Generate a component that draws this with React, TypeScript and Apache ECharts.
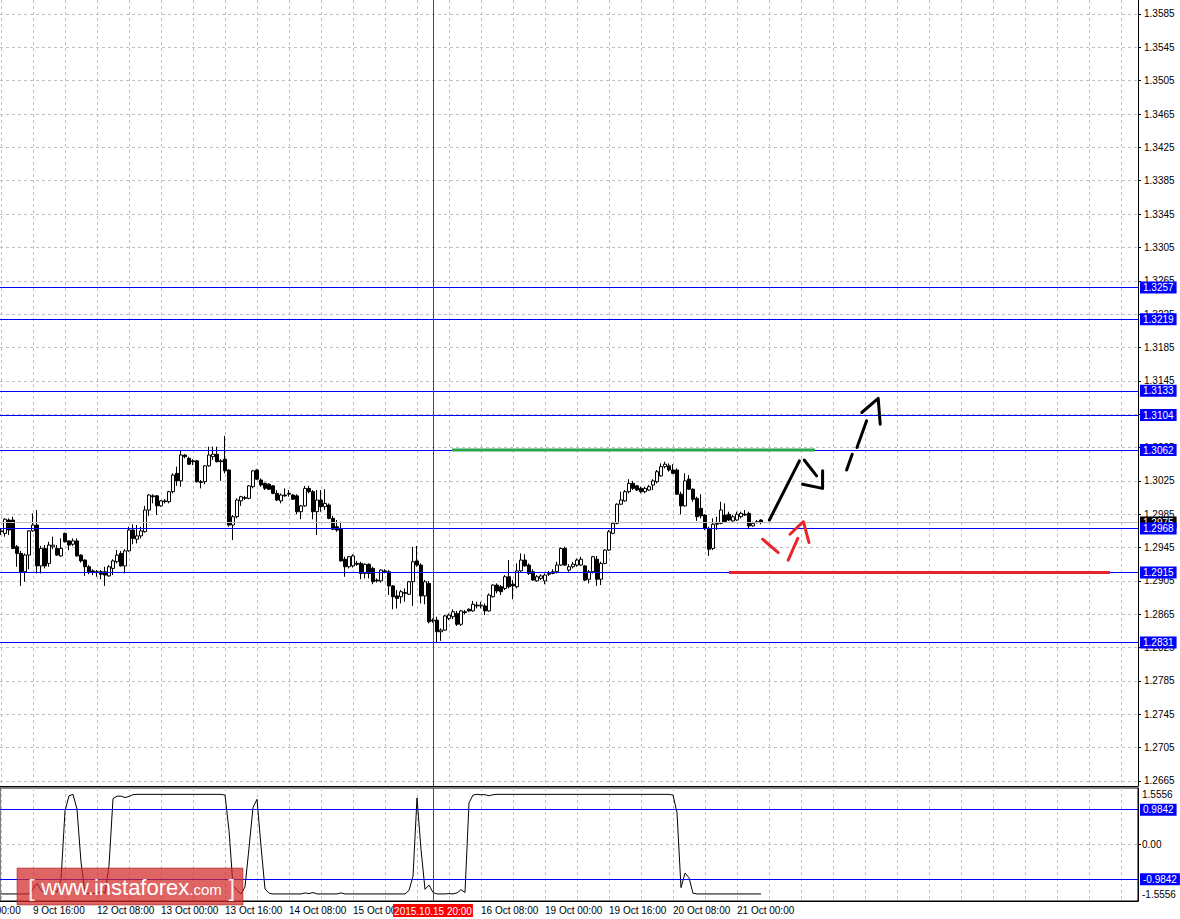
import React, { useEffect, useRef } from 'react';
import * as echarts from 'echarts';

// H1 bars, index 0 = 9 Oct 08:00 ; each row: [open, close, low, high]
const ohlc: number[][] = [
  [1.2964, 1.2965, 1.2960, 1.2968], [1.2962, 1.2979, 1.2958, 1.2980], [1.2978, 1.2966, 1.2960, 1.2980], [1.2978, 1.2944, 1.2943, 1.2982],
  [1.2946, 1.2938, 1.2922, 1.2948], [1.2938, 1.2916, 1.2899, 1.2941], [1.2916, 1.2936, 1.2904, 1.2938], [1.2936, 1.2965, 1.2919, 1.2966],
  [1.2965, 1.2972, 1.2964, 1.2986], [1.2972, 1.2923, 1.2914, 1.2990], [1.2923, 1.2944, 1.2914, 1.2947], [1.2944, 1.2923, 1.2920, 1.2948],
  [1.2926, 1.2948, 1.2922, 1.2952], [1.2946, 1.2948, 1.2943, 1.2958], [1.2944, 1.2936, 1.2935, 1.2948], [1.2935, 1.2944, 1.2934, 1.2956],
  [1.2962, 1.2952, 1.2951, 1.2963], [1.2953, 1.2948, 1.2942, 1.2954], [1.2949, 1.2953, 1.2947, 1.2956], [1.2953, 1.2935, 1.2934, 1.2956],
  [1.2936, 1.2929, 1.2927, 1.2937], [1.2930, 1.2922, 1.2911, 1.2931], [1.2922, 1.2916, 1.2913, 1.2924], [1.2917, 1.2916, 1.2912, 1.2919],
  [1.2916, 1.2915, 1.2910, 1.2918], [1.2916, 1.2913, 1.2907, 1.2918], [1.2916, 1.2912, 1.2899, 1.2922], [1.2911, 1.2922, 1.2910, 1.2924],
  [1.2920, 1.2929, 1.2912, 1.2931], [1.2928, 1.2936, 1.2926, 1.2942], [1.2938, 1.2923, 1.2922, 1.2941], [1.2923, 1.2941, 1.2914, 1.2943],
  [1.2941, 1.2966, 1.2940, 1.2970], [1.2966, 1.2956, 1.2949, 1.2973], [1.2955, 1.2959, 1.2950, 1.2972], [1.2959, 1.2965, 1.2956, 1.2970],
  [1.2964, 1.2990, 1.2963, 1.2995], [1.2990, 1.3008, 1.2983, 1.3009], [1.3007, 1.3006, 1.2998, 1.3009], [1.3007, 1.2995, 1.2984, 1.3008],
  [1.2995, 1.3001, 1.2994, 1.3002], [1.3001, 1.3000, 1.2998, 1.3003], [1.3000, 1.3012, 1.2998, 1.3013], [1.3012, 1.3032, 1.3010, 1.3034],
  [1.3034, 1.3025, 1.3019, 1.3042], [1.3025, 1.3056, 1.3018, 1.3062], [1.3056, 1.3054, 1.3052, 1.3057], [1.3052, 1.3045, 1.3044, 1.3054],
  [1.3049, 1.3048, 1.3044, 1.3051], [1.3049, 1.3024, 1.3023, 1.3050], [1.3024, 1.3023, 1.3016, 1.3026], [1.3024, 1.3043, 1.3021, 1.3044],
  [1.3043, 1.3056, 1.3042, 1.3066], [1.3054, 1.3057, 1.3050, 1.3066], [1.3057, 1.3048, 1.3047, 1.3066], [1.3049, 1.3048, 1.3025, 1.3051],
  [1.3051, 1.3037, 1.3034, 1.3079], [1.3038, 1.2972, 1.2970, 1.3039], [1.2972, 1.2982, 1.2954, 1.2984], [1.2982, 1.3002, 1.2980, 1.3004],
  [1.3001, 1.3006, 1.2995, 1.3007], [1.3004, 1.3005, 1.3002, 1.3007], [1.3004, 1.3019, 1.3003, 1.3020], [1.3018, 1.3037, 1.3016, 1.3038],
  [1.3038, 1.3027, 1.3026, 1.3039], [1.3026, 1.3020, 1.3018, 1.3028], [1.3022, 1.3016, 1.3014, 1.3023], [1.3021, 1.3015, 1.3014, 1.3022],
  [1.3019, 1.3010, 1.3009, 1.3020], [1.3010, 1.3002, 1.3001, 1.3014], [1.3001, 1.3008, 1.2998, 1.3010], [1.3008, 1.3007, 1.3006, 1.3016],
  [1.3009, 1.3010, 1.3006, 1.3014], [1.3008, 1.3003, 1.3002, 1.3009], [1.3007, 1.2988, 1.2985, 1.3009], [1.2988, 1.2995, 1.2979, 1.2996],
  [1.2995, 1.3016, 1.2994, 1.3019], [1.3016, 1.3012, 1.3010, 1.3019], [1.3012, 1.2988, 1.2979, 1.3014], [1.2988, 1.3002, 1.2960, 1.3014],
  [1.3002, 1.2994, 1.2988, 1.3014], [1.2994, 1.2998, 1.2990, 1.3015], [1.2996, 1.2980, 1.2979, 1.2998], [1.2980, 1.2967, 1.2966, 1.2983],
  [1.2970, 1.2966, 1.2964, 1.2978], [1.2967, 1.2929, 1.2928, 1.2976], [1.2931, 1.2922, 1.2910, 1.2934], [1.2922, 1.2934, 1.2920, 1.2935],
  [1.2923, 1.2935, 1.2921, 1.2937], [1.2926, 1.2925, 1.2923, 1.2929], [1.2926, 1.2914, 1.2907, 1.2928], [1.2914, 1.2925, 1.2908, 1.2926],
  [1.2925, 1.2914, 1.2908, 1.2926], [1.2920, 1.2904, 1.2901, 1.2922], [1.2906, 1.2905, 1.2903, 1.2908], [1.2905, 1.2918, 1.2903, 1.2919],
  [1.2917, 1.2916, 1.2914, 1.2919], [1.2916, 1.2899, 1.2888, 1.2918], [1.2899, 1.2886, 1.2871, 1.2900], [1.2887, 1.2884, 1.2872, 1.2894],
  [1.2886, 1.2892, 1.2878, 1.2894], [1.2890, 1.2891, 1.2880, 1.2896], [1.2889, 1.2904, 1.2888, 1.2905], [1.2904, 1.2928, 1.2875, 1.2946],
  [1.2929, 1.2924, 1.2922, 1.2947], [1.2924, 1.2887, 1.2878, 1.2926], [1.2887, 1.2904, 1.2877, 1.2906], [1.2902, 1.2856, 1.2854, 1.2905],
  [1.2858, 1.2857, 1.2855, 1.2860], [1.2858, 1.2844, 1.2831, 1.2862], [1.2844, 1.2846, 1.2833, 1.2848], [1.2846, 1.2863, 1.2845, 1.2864],
  [1.2860, 1.2864, 1.2858, 1.2866], [1.2862, 1.2868, 1.2859, 1.2871], [1.2866, 1.2853, 1.2851, 1.2869], [1.2853, 1.2869, 1.2851, 1.2870],
  [1.2868, 1.2867, 1.2865, 1.2870], [1.2871, 1.2869, 1.2868, 1.2872], [1.2869, 1.2877, 1.2868, 1.2881], [1.2876, 1.2875, 1.2872, 1.2880],
  [1.2875, 1.2876, 1.2872, 1.2880], [1.2875, 1.2869, 1.2864, 1.2878], [1.2869, 1.2888, 1.2868, 1.2890], [1.2886, 1.2900, 1.2885, 1.2901],
  [1.2900, 1.2893, 1.2890, 1.2902], [1.2898, 1.2892, 1.2888, 1.2900], [1.2896, 1.2910, 1.2894, 1.2912], [1.2910, 1.2898, 1.2896, 1.2930],
  [1.2901, 1.2899, 1.2883, 1.2906], [1.2898, 1.2917, 1.2896, 1.2926], [1.2917, 1.2930, 1.2916, 1.2938], [1.2930, 1.2923, 1.2922, 1.2937],
  [1.2924, 1.2914, 1.2912, 1.2926], [1.2916, 1.2906, 1.2905, 1.2919], [1.2905, 1.2910, 1.2904, 1.2912], [1.2908, 1.2911, 1.2906, 1.2913],
  [1.2905, 1.2912, 1.2901, 1.2914], [1.2913, 1.2914, 1.2911, 1.2917], [1.2914, 1.2916, 1.2913, 1.2919], [1.2916, 1.2924, 1.2914, 1.2928],
  [1.2924, 1.2944, 1.2923, 1.2945], [1.2944, 1.2924, 1.2923, 1.2946], [1.2918, 1.2922, 1.2916, 1.2925], [1.2922, 1.2925, 1.2920, 1.2928],
  [1.2924, 1.2930, 1.2922, 1.2932], [1.2924, 1.2931, 1.2923, 1.2934], [1.2923, 1.2906, 1.2905, 1.2924], [1.2907, 1.2916, 1.2902, 1.2918],
  [1.2916, 1.2934, 1.2914, 1.2935], [1.2931, 1.2907, 1.2899, 1.2935], [1.2907, 1.2926, 1.2900, 1.2928], [1.2926, 1.2942, 1.2925, 1.2943],
  [1.2942, 1.2964, 1.2941, 1.2966], [1.2962, 1.2974, 1.2961, 1.2976], [1.2974, 1.2997, 1.2973, 1.2998], [1.2997, 1.3002, 1.2996, 1.3012],
  [1.3001, 1.3012, 1.3000, 1.3014], [1.3012, 1.3022, 1.3010, 1.3027], [1.3022, 1.3016, 1.3014, 1.3025], [1.3019, 1.3014, 1.3013, 1.3020],
  [1.3016, 1.3012, 1.3010, 1.3018], [1.3012, 1.3016, 1.3010, 1.3018], [1.3014, 1.3018, 1.3013, 1.3020], [1.3020, 1.3025, 1.3014, 1.3027],
  [1.3024, 1.3036, 1.3022, 1.3038], [1.3031, 1.3042, 1.3030, 1.3046], [1.3042, 1.3045, 1.3040, 1.3048], [1.3043, 1.3038, 1.3036, 1.3046],
  [1.3038, 1.3034, 1.3033, 1.3045], [1.3038, 1.3009, 1.3008, 1.3040], [1.3009, 1.2995, 1.2985, 1.3012], [1.2995, 1.3025, 1.2994, 1.3034],
  [1.3027, 1.3015, 1.3014, 1.3032], [1.3015, 1.3003, 1.3000, 1.3016], [1.3004, 1.2982, 1.2977, 1.3006], [1.2992, 1.2983, 1.2980, 1.3009],
  [1.2984, 1.2968, 1.2966, 1.2985], [1.2968, 1.2943, 1.2935, 1.2970], [1.2944, 1.2973, 1.2942, 1.2980], [1.2973, 1.2974, 1.2966, 1.2982],
  [1.2974, 1.2990, 1.2973, 1.3000], [1.2984, 1.2976, 1.2975, 1.2998], [1.2985, 1.2978, 1.2977, 1.2988], [1.2977, 1.2982, 1.2976, 1.2984],
  [1.2978, 1.2985, 1.2977, 1.2988], [1.2982, 1.2986, 1.2980, 1.2988], [1.2985, 1.2984, 1.2983, 1.2990], [1.2986, 1.2971, 1.2967, 1.2988],
  [1.2971, 1.2974, 1.2970, 1.2976], [1.2976, 1.2975, 1.2974, 1.2978], [1.2978, 1.2975, 1.2973, 1.2979],
];

// oscillator (lower window), one value per bar
const oscillator: number[] = [
  -1.40, -1.40, -1.40, -1.40, -1.40, -1.40, -1.40,
  -1.40, -1.25, -1.10, -1.30, -1.38, -1.15, -1.30, -1.35, -1.00,
  0.95, 1.38, 1.42, 1.00, -0.50, -1.36,
  -1.40, -1.38, -1.40, -1.30, -1.38,
  -0.60, 1.30, 1.37, 1.37, 1.33, 1.36, 1.41,
  1.42, 1.42, 1.42, 1.42, 1.42, 1.42, 1.42, 1.42, 1.42, 1.42, 1.42, 1.42, 1.42, 1.42, 1.42, 1.42, 1.42, 1.42, 1.42, 1.42, 1.42, 1.42,
  1.40, 0.40, -1.17, -1.30, -1.40, -1.20, -0.10, 1.05, 1.28, -0.05, -1.26, -1.38,
  -1.40, -1.40, -1.40, -1.40, -1.40, -1.40, -1.40, -1.40,
  -1.37, -1.39, -1.36,
  -1.40, -1.40, -1.40, -1.40, -1.40, -1.40,
  -1.37,
  -1.40, -1.40, -1.40, -1.40, -1.40, -1.40, -1.40, -1.40, -1.40, -1.40, -1.40, -1.40, -1.40, -1.40, -1.40, -1.40,
  -1.30, -0.90, 1.32, -0.14, -1.27, -1.15, -1.36,
  -1.40, -1.40, -1.40, -1.39, -1.40, -1.37, -1.28, -1.36,
  1.18, 1.40, 1.42, 1.41, 1.41, 1.38, 1.41,
  1.42, 1.42, 1.42, 1.42, 1.42, 1.42, 1.42, 1.42, 1.42, 1.42, 1.42, 1.42, 1.42, 1.42, 1.42,
  1.42, 1.42, 1.42, 1.42, 1.42, 1.42, 1.42, 1.42, 1.42, 1.42, 1.42, 1.42, 1.42, 1.42, 1.42,
  1.42, 1.42, 1.42, 1.42, 1.42, 1.42, 1.42, 1.42, 1.42, 1.42, 1.42, 1.42, 1.42, 1.42, 1.40,
  0.90, -1.22, -0.81, -0.94, -1.38,
  -1.40, -1.40, -1.40, -1.40, -1.40, -1.40, -1.40, -1.40, -1.40, -1.40, -1.40, -1.40, -1.40, -1.40, -1.40, -1.40, -1.40,
];

const priceTicks = [
  1.2665, 1.2705, 1.2745, 1.2785, 1.2825, 1.2865, 1.2905, 1.2945, 1.2985, 1.3025, 1.3065, 1.3105,
  1.3145, 1.3185, 1.3225, 1.3265, 1.3305, 1.3345, 1.3385, 1.3425, 1.3465, 1.3505, 1.3545, 1.3585,
];
const timeLabelBars = [8, 24, 40, 56, 72, 88, 120, 136, 152, 168, 184];
const timeLabels = [
  '9 Oct 16:00', '12 Oct 08:00', '13 Oct 00:00', '13 Oct 16:00', '14 Oct 08:00', '15 Oct 00:00',
  '16 Oct 08:00', '19 Oct 00:00', '19 Oct 16:00', '20 Oct 08:00', '21 Oct 00:00',
];
const firstPartialLabel = '9 Oct 00:00';
const levelPrices = [1.3257, 1.3219, 1.3133, 1.3104, 1.3062, 1.2968, 1.2915, 1.2831];
const bidPrice = 1.2975;
const oscLevels = [0.9842, -0.9842];
const oscLabelValues = [1.5556, 0, -1.5556];
const cursorBar = 108;
const cursorLabel = '2015.10.15 20:00';

// hand-drawn annotations in (bar index, price)
const greenSegment = [[112.75, 1.3062], [203.5, 1.3062]];
const redSegment = [[182, 1.2915], [277.25, 1.2915]];
const blackStrokes = [
  [[192.1, 1.2978], [199.6, 1.3049]],
  [[200.8, 1.3050], [203.9, 1.3031]],
  [[200.4, 1.3021], [205.4, 1.3016], [205.4, 1.3037]],
  [[211.4, 1.3038], [212.8, 1.3057]],
  [[214.0, 1.3065], [216.4, 1.3097]],
  [[215.2, 1.3107], [219.3, 1.3124], [219.8, 1.3093]],
];
const redStrokes = [
  [[190.4, 1.2955], [194.3, 1.2939]],
  [[196.8, 1.2930], [199.2, 1.2956]],
  [[197.25, 1.2961], [200.6, 1.2976], [202.0, 1.2951]],
];

const FONT = 'Liberation Sans, Arial, sans-serif';
const GRID_COLOR = '#c0c0c0';
const BLUE_LINE = '#0000ff';
const BLUE_LABEL = '#0000ff';
const gridBars: number[] = [];
for (let b = 0; b <= 280; b += 8) gridBars.push(b);

function buildOption(): any {
  const blueLabel = (text: string) => ({
    show: true, position: 'end', formatter: text, color: '#fff',
    backgroundColor: BLUE_LABEL, padding: [1, 3, 1, 3], distance: 2,
    fontSize: 10, fontFamily: FONT, lineHeight: 10,
  });
  const levelMarks = levelPrices.map((p) => ({
    yAxis: p,
    lineStyle: { color: BLUE_LINE, width: 1, type: 'solid' },
    label: blueLabel(p.toFixed(4)),
  }));
  const oscMarks = oscLevels.map((v) => ({
    yAxis: v,
    lineStyle: { color: BLUE_LINE, width: 1, type: 'solid' },
    label: blueLabel(v.toFixed(4)),
  }));

  const strokeSeries = (strokes: number[][][], color: string, width: number) =>
    strokes.map((s) => ({
      type: 'line', xAxisIndex: 0, yAxisIndex: 0, data: s, symbol: 'none', silent: true,
      lineStyle: { color, width, cap: 'round', join: 'round' }, z: 6,
    }));

  return {
    animation: false,
    backgroundColor: '#ffffff',
    textStyle: { fontFamily: FONT, fontSize: 10, color: '#000' },
    grid: [
      { left: 0, top: 0, width: 1138, height: 786, containLabel: false, outerBoundsMode: 'none' },
      { left: 0, top: 788, width: 1138, height: 113, containLabel: false, outerBoundsMode: 'none',
        show: true, borderColor: '#000', borderWidth: 1, backgroundColor: 'transparent' },
    ],
    xAxis: [
      {
        type: 'value', gridIndex: 0, min: -0.25, max: 284.25,
        axisLine: { show: true, onZero: false, lineStyle: { color: '#000', width: 1 } },
        axisTick: { show: false, customValues: gridBars },
        axisLabel: { show: false },
        splitLine: { show: true, lineStyle: { color: GRID_COLOR, width: 1, type: [3, 3] } },
      },
      {
        type: 'value', gridIndex: 1, min: -0.25, max: 284.25,
        axisLine: { show: true, onZero: false, lineStyle: { color: '#000', width: 1 } },
        axisTick: { show: false, customValues: gridBars },
        axisLabel: {
          show: true, customValues: timeLabelBars, align: 'left', margin: 4, color: '#000',
          fontSize: 10, fontFamily: FONT,
          formatter: (v: number) => {
            const k = timeLabelBars.indexOf(Math.round(v));
            return k >= 0 ? timeLabels[k] : '';
          },
        },
        splitLine: { show: true, lineStyle: { color: GRID_COLOR, width: 1, type: [3, 3] } },
      },
    ],
    yAxis: [
      {
        type: 'value', gridIndex: 0, position: 'right', min: 1.265900, max: 1.360179,
        axisLine: { show: true, onZero: false, lineStyle: { color: '#000', width: 1 } },
        axisTick: { show: true, length: 3, customValues: priceTicks, lineStyle: { color: '#000' } },
        axisLabel: {
          show: true, customValues: priceTicks, margin: 6, color: '#000', fontSize: 10, fontFamily: FONT,
          formatter: (v: number) => v.toFixed(4),
        },
        splitLine: { show: true, lineStyle: { color: GRID_COLOR, width: 1, type: [3, 3] } },
      },
      {
        type: 'value', gridIndex: 1, position: 'right', min: -1.6, max: 1.6,
        axisLine: { show: true, onZero: false, lineStyle: { color: '#000', width: 1 } },
        axisTick: { show: true, length: 3, customValues: [0], lineStyle: { color: '#000' } },
        axisLabel: {
          show: true, customValues: oscLabelValues, margin: 4, color: '#000', fontSize: 10, fontFamily: FONT,
          formatter: (v: number) => {
            if (Math.abs(v) < 1e-9) return '0.00';
            return v > 0 ? '{t|' + v.toFixed(4) + '}' : '{b|' + v.toFixed(4) + '}';
          },
          rich: {
            t: { padding: [9, 0, 0, 0], fontSize: 10, fontFamily: FONT, color: '#000' },
            b: { padding: [0, 0, 9, 0], fontSize: 10, fontFamily: FONT, color: '#000' },
          },
        },
        splitLine: { show: true, lineStyle: { color: GRID_COLOR, width: 1, type: [3, 3] } },
      },
    ],
    series: [
      {
        type: 'candlestick', xAxisIndex: 0, yAxisIndex: 0, barWidth: 3,
        encode: { x: 0, y: [1, 2, 3, 4] },
        data: ohlc.map((r, i) => [i, r[0], r[1], r[2], r[3]]),
        itemStyle: {
          color: '#ffffff', color0: '#000000', borderColor: '#000000', borderColor0: '#000000',
          borderColorDoji: '#000000', borderWidth: 1,
        },
        silent: true,
        markLine: {
          silent: true, symbol: ['none', 'none'], animation: false, precision: 4,
          data: [
            {
              yAxis: bidPrice,
              lineStyle: { color: GRID_COLOR, width: 1, type: 'solid' },
              label: {
                show: true, position: 'end', formatter: bidPrice.toFixed(4), color: '#fff',
                backgroundColor: '#000', padding: [1, 3, 1, 3], distance: 2, fontSize: 10,
                fontFamily: FONT, lineHeight: 10,
              },
            },
            ...levelMarks,
            { xAxis: cursorBar, lineStyle: { color: '#ff0000', width: 1, type: 'solid' }, label: { show: false } },
          ],
        },
      },
      {
        type: 'line', xAxisIndex: 0, yAxisIndex: 0, data: greenSegment, symbol: 'none', silent: true,
        lineStyle: { color: '#2ea44f', width: 3 }, z: 5,
      },
      {
        type: 'line', xAxisIndex: 0, yAxisIndex: 0, data: redSegment, symbol: 'none', silent: true,
        lineStyle: { color: '#e4232a', width: 3 }, z: 5,
      },
      ...strokeSeries(blackStrokes, '#000000', 3),
      ...strokeSeries(redStrokes, '#e8262b', 3),
      {
        type: 'line', xAxisIndex: 1, yAxisIndex: 1, data: oscillator.map((v, i) => [i, v]),
        symbol: 'none', silent: true, lineStyle: { color: '#000', width: 1 },
        markLine: {
          silent: true, symbol: ['none', 'none'], animation: false, precision: 4,
          data: [
            ...oscMarks,
            {
              xAxis: cursorBar,
              lineStyle: { color: '#ff0000', width: 1, type: 'solid' },
              label: {
                show: true, position: 'start', formatter: cursorLabel, color: '#fff',
                backgroundColor: '#ff0000', padding: [2, 1, 1, 1], distance: 3, fontSize: 10,
                fontFamily: FONT, lineHeight: 10,
              },
            },
          ],
        },
      },
    ],
    graphic: [
      {
        type: 'text', x: -31, y: 905, z: 50, silent: true,
        style: { text: firstPartialLabel, fontSize: 10, fontFamily: FONT, fill: '#000', verticalAlign: 'top' },
      },
      {
        type: 'rect', x: 17, y: 868, shape: { width: 226, height: 37 }, z: 100, silent: true,
        style: { fill: 'rgba(210,40,40,0.72)', stroke: 'rgba(150,30,30,0.5)', lineWidth: 1 },
      },
      {
        type: 'text', x: 28, y: 887, z: 101, silent: true,
        style: {
          text: '{b|[}  {w|www.instaforex}{c|.com}  {b|]}',
          verticalAlign: 'middle',
          fill: '#fff',
          rich: {
            b: { fontSize: 24, fontFamily: FONT, fill: 'rgba(255,255,255,0.9)' },
            w: { fontSize: 22, fontFamily: FONT, fill: '#ffffff' },
            c: { fontSize: 15, fontFamily: FONT, fill: '#ffffff', padding: [4, 0, 0, 0] },
          },
        },
      },
    ],
  };
}

export default function App() {
  const ref = useRef<HTMLDivElement>(null);
  useEffect(() => {
    if (!ref.current) return;
    const chart = echarts.init(ref.current, null, { renderer: 'svg' });
    chart.setOption(buildOption());
    return () => chart.dispose();
  }, []);
  return (
    <div
      ref={ref}
      style={{ position: 'fixed', left: 0, top: 0, width: 1180, height: 919, background: '#fff' }}
    />
  );
}
